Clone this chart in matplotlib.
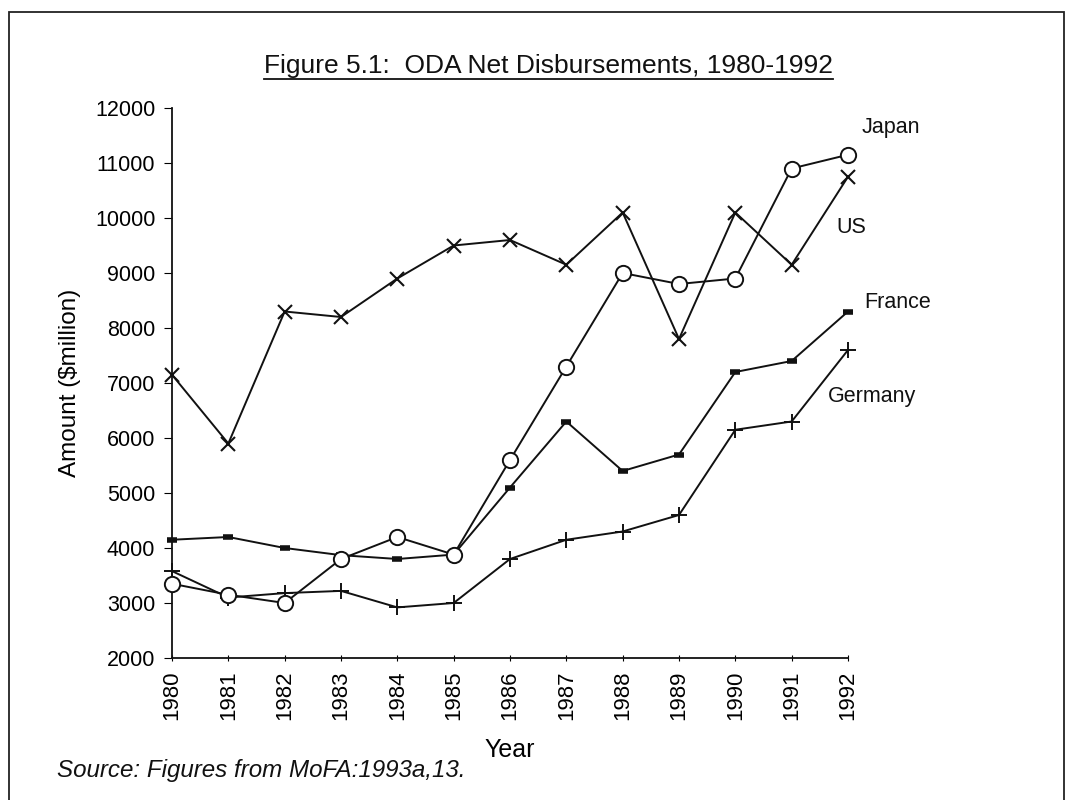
import matplotlib
matplotlib.use("Agg")
import matplotlib.pyplot as plt
from matplotlib.lines import Line2D
from matplotlib.patches import Rectangle

plt.rcParams["font.family"] = ["Liberation Sans", "DejaVu Sans"]

years = list(range(1980, 1993))
japan = [3350, 3150, 3000, 3800, 4200, 3880, 5600, 7300, 9000, 8800, 8900, 10900, 11150]
us = [7150, 5900, 8300, 8200, 8900, 9500, 9600, 9150, 10100, 7800, 10100, 9150, 10750]
france = [4150, 4200, 4000, 3870, 3800, 3880, 5100, 6300, 5400, 5700, 7200, 7400, 8300]
germany = [3580, 3100, 3180, 3220, 2920, 3000, 3800, 4150, 4300, 4600, 6150, 6300, 7600]

W, H = 1066, 800
fig = plt.figure(figsize=(W / 100, H / 100), dpi=100)
ax = fig.add_axes([172 / W, 1 - 658 / H, (848 - 172) / W, (658 - 108) / H])

lw = 1.4
ax.plot(years, germany, color="#111111", lw=lw, marker="+", ms=11, mew=1.4, clip_on=False)
ax.plot(years, france, color="#111111", lw=lw, marker="_", ms=7, mew=4, clip_on=False)
ax.plot(years, us, color="#111111", lw=lw, marker="x", ms=10, mew=1.5, clip_on=False)
ax.plot(years, japan, color="#111111", lw=lw, marker="o", ms=11, mew=1.4,
        mfc="white", zorder=5, clip_on=False)

ax.set_xlim(1980, 1992)
ax.set_ylim(2000, 12000)
ax.set_xticks(years)
ax.set_xticklabels([str(y) for y in years], rotation=90, fontsize=16)
ax.set_yticks(range(2000, 12001, 1000))
ax.tick_params(axis="y", labelsize=15.5, length=6, direction="out", pad=6)
ax.tick_params(axis="x", length=4, direction="inout", pad=7)
for s in ["top", "right"]:
    ax.spines[s].set_visible(False)
for s in ["left", "bottom"]:
    ax.spines[s].set_linewidth(1.3)
    ax.spines[s].set_color("#111111")

ax.set_xlabel("Year", fontsize=18, labelpad=13)
ax.set_ylabel("Amount ($million)", fontsize=17.5, labelpad=10)

label_kw = dict(fontsize=15.5, va="center", ha="left", color="#111111")
ax.text(1992.25, 11640, "Japan", **label_kw)
ax.text(1991.8, 9820, "US", **label_kw)
ax.text(1992.28, 8470, "France", **label_kw)
ax.text(1991.65, 6760, "Germany", **label_kw)

title = fig.text(548 / W, 1 - 66 / H, "Figure 5.1:  ODA Net Disbursements, 1980-1992",
                 fontsize=19, ha="center", va="center", color="#111111")
fig.text(57 / W, 1 - 771 / H, "Source: Figures from MoFA:1993a,13.",
         fontsize=17.4, style="italic", ha="left", va="center", color="#111111")

# underline the title
fig.canvas.draw()
bb = title.get_window_extent()
uy = (bb.y0 - 1) / H
fig.add_artist(Line2D([bb.x0 / W, bb.x1 / W], [uy, uy], color="#111111", lw=1.3))

# frame round the figure
fig.add_artist(Rectangle((9 / W, -0.01), (1064 - 9) / W, 1.01 - 12 / H,
                         fill=False, ec="#222222", lw=1.3, transform=fig.transFigure))

fig.savefig("out.png", dpi=100)
